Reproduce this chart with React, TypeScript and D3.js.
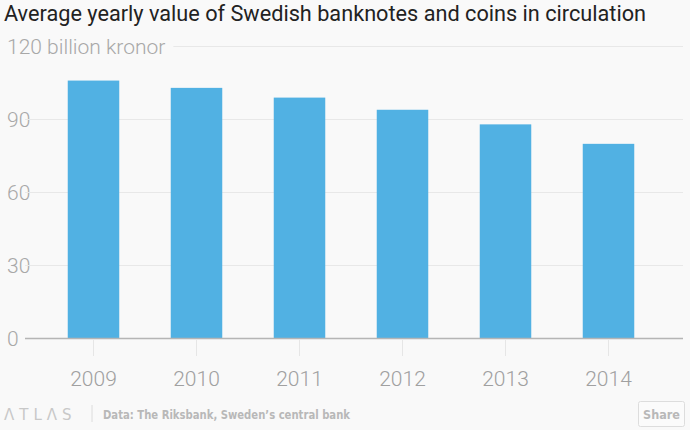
import React, { useEffect, useRef } from 'react';
import * as d3 from 'd3';

const years = ['2009', '2010', '2011', '2012', '2013', '2014'];
const values = [106, 103, 99, 94, 88, 80];
const yTicks = [0, 30, 60, 90, 120];

const title = 'Average yearly value of Swedish banknotes and coins in circulation';
const unitLabel = 'billion kronor';
const source = 'Data: The Riksbank, Sweden\u2019s central bank';

const W = 690;
const H = 430;
const tickFont = 'Roboto, "Liberation Sans", sans-serif';
const condensed = '"DejaVu Sans", sans-serif';

const App = () => {
    const ref = useRef<SVGSVGElement | null>(null);

    useEffect(() => {
        if (!ref.current) return;
        const svg = d3.select(ref.current);
        svg.selectAll('*').remove();

        svg.append('rect').attr('width', W).attr('height', H).attr('fill', '#f9f9f9');

        // Scales
        const x = d3.scaleBand<string>()
            .domain(years)
            .range([42, 660])
            .paddingInner(0.5)
            .paddingOuter(0.25);

        const y = d3.scaleLinear()
            .domain([0, 120])
            .range([338.5, 46.5]);

        // Title
        svg.append('text')
            .attr('x', 4)
            .attr('y', 21)
            .style('font-family', 'Roboto, "Liberation Sans", sans-serif')
            .style('font-size', '21.7px')
            .attr('fill', '#222')
            .text(title);

        // Gridlines + tick labels
        const grid = svg.append('g');
        yTicks.forEach(t => {
            const label = t === 120 ? `${t} ${unitLabel}` : `${t}`;
            const txt = grid.append('text')
                .attr('x', 7)
                .attr('y', y(t) + 7.5)
                .style('font-family', tickFont)
                .style('font-weight', '300')
                .style('font-size', '21px')
                .attr('fill', '#a8a8a8')
                .text(label);
            if (t === 0) return;
            const node = txt.node() as SVGTextElement;
            const tw = node.getComputedTextLength();
            grid.append('line')
                .attr('x1', t === 120 ? 7 + tw + 8 : 25)
                .attr('x2', 683)
                .attr('y1', y(t))
                .attr('y2', y(t))
                .attr('stroke', '#e8e8e8')
                .attr('stroke-width', 1);
        });

        // Bars
        svg.append('g')
            .selectAll('rect')
            .data(values)
            .enter()
            .append('rect')
            .attr('x', (d, i) => x(years[i]) as number)
            .attr('y', d => y(d))
            .attr('width', x.bandwidth())
            .attr('height', d => y(0) - y(d))
            .attr('fill', '#51b1e3');

        // Baseline
        svg.append('line')
            .attr('x1', 25)
            .attr('x2', 683)
            .attr('y1', y(0))
            .attr('y2', y(0))
            .attr('stroke', '#b5b5b5')
            .attr('stroke-width', 1.5);

        // X ticks + labels
        const xg = svg.append('g');
        years.forEach(yr => {
            const cx = (x(yr) as number) + x.bandwidth() / 2;
            xg.append('line')
                .attr('x1', cx).attr('x2', cx)
                .attr('y1', y(0) + 1).attr('y2', 356)
                .attr('stroke', '#e6e6e6');
            xg.append('text')
                .attr('x', cx)
                .attr('y', 386)
                .attr('text-anchor', 'middle')
                .style('font-family', tickFont)
                .style('font-weight', '300')
                .style('font-size', '21px')
                .attr('fill', '#a0a0a0')
                .text(yr);
        });

        // Footer
        const foot = svg.append('g');
        foot.append('text')
            .attr('x', 4)
            .attr('y', 420)
            .style('font-family', '"DejaVu Sans", sans-serif')
            .style('font-size', '15px')
            .style('letter-spacing', '5px')
            .attr('fill', '#c8c8c8')
            .text('\u039BTL\u039BS');
        foot.append('line')
            .attr('x1', 92).attr('x2', 92)
            .attr('y1', 405).attr('y2', 422)
            .attr('stroke', '#dcdcdc');
        foot.append('text')
            .attr('x', 103)
            .attr('y', 419)
            .style('font-family', condensed)
            .style('font-stretch', 'condensed')
            .style('font-size', '12.5px')
            .style('font-weight', 'bold')
            .attr('fill', '#b8b8b8')
            .attr('textLength', 247)
            .attr('lengthAdjust', 'spacingAndGlyphs')
            .text(source);
        foot.append('rect')
            .attr('x', 638.5).attr('y', 401.5)
            .attr('width', 46).attr('height', 25)
            .attr('rx', 2)
            .attr('fill', '#fbfbfb')
            .attr('stroke', '#dddddd');
        foot.append('text')
            .attr('x', 661.5)
            .attr('y', 419)
            .attr('text-anchor', 'middle')
            .style('font-family', condensed)
            .style('font-stretch', 'condensed')
            .style('font-size', '12.5px')
            .style('font-weight', 'bold')
            .attr('fill', '#b8b8b8')
            .text('Share');
    }, []);

    return (
        <div style={{ position: 'absolute', left: 0, top: 0 }}>
            <svg ref={ref} width={W} height={H} style={{ display: 'block' }} />
        </div>
    );
};

export default App;
